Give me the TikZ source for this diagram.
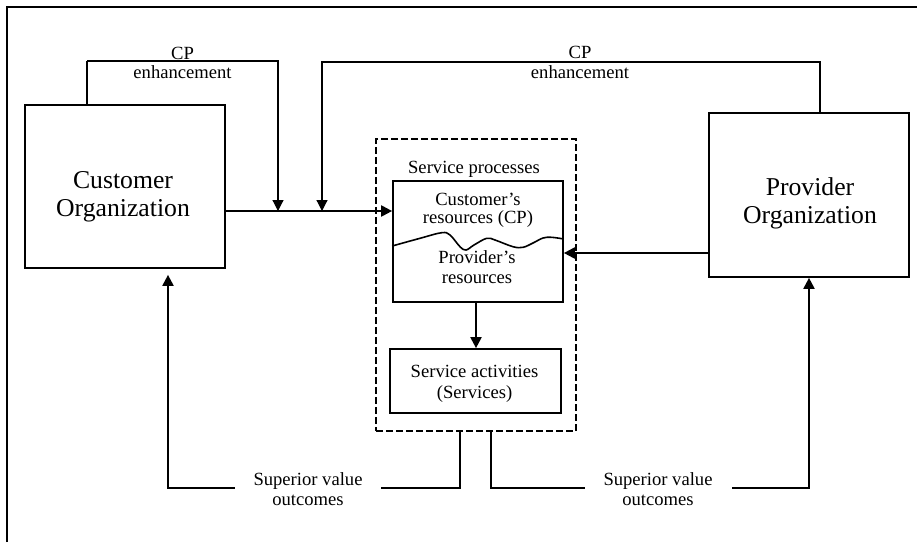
\documentclass[tikz,border=0pt]{standalone}
\usepackage{fontspec}
\setmainfont{Liberation Serif}
\usetikzlibrary{arrows.meta}
\begin{document}
\begin{tikzpicture}[x=1pt,y=-1pt,
  box/.style={draw,line width=1.7pt,inner sep=0pt},
  lbl/.style={inner sep=0pt,anchor=base,font=\fontsize{18.6}{20}\selectfont},
  big/.style={inner sep=0pt,anchor=base,font=\fontsize{25.7}{28}\selectfont},
  flow/.style={line width=2pt,-{Triangle[length=11pt,width=11pt]}},
  thinflow/.style={line width=1.2pt,-{Triangle[length=11pt,width=11pt]}},
  gapnode/.style={fill=white,inner xsep=19pt,inner ysep=2pt,align=center,
    font=\fontsize{18.6}{20}\selectfont}]
\useasboundingbox (0,0) rectangle (917,542);
% frame
\draw[line width=2pt] (7,542) -- (7,7) -- (917,7);

% organisations
\node[box,minimum width=200pt,minimum height=163pt] (cust) at (125,186.5) {};
\node[big] (custA) at (123,188) {Customer};
\node[big] (custB) at (123,216) {Organization};
\node[box,minimum width=200pt,minimum height=164pt] (prov) at (809,195) {};
\node[big] (provA) at (810,195) {Provider};
\node[big] (provB) at (810,223) {Organization};

% service processes
\node[draw,line width=1.6pt,dash pattern=on 7pt off 3pt,minimum width=200pt,minimum height=292pt] (proc) at (476,285) {};
\node[lbl] (procT) at (474,173) {Service processes};
\node[box,minimum width=170pt,minimum height=121pt] (res) at (478,241.5) {};
\node[lbl] (resA) at (478,205) {Customer’s};
\node[lbl] (resB) at (478,223) {resources (CP)};
\node[lbl] (resC) at (477,263) {Provider’s};
\node[lbl] (resD) at (477,283) {resources};
\draw[line width=1.6pt] plot[smooth,tension=0.6] coordinates {
  (res.west |- 0,246) (420,238.3) (441.7,232.7) (450,235) (460,246.7)
  (466,250) (474,245) (486.7,238.3) (495,240) (513,246.7) (523,247.3)
  (533,243) (543,238) (551.7,237.3) (res.east |- 0,239)};
\node[box,minimum width=171pt,minimum height=64pt] (act) at (475.5,381) {};
\node[lbl] (actA) at (474.5,377) {Service activities};
\node[lbl] (actB) at (474.5,398) {(Services)};

% main input flow and junctions
\coordinate (mainY) at (0,211);
\coordinate (j1) at (278,211);
\coordinate (j2) at (322,211);
\draw[flow] (cust.east |- mainY) -- (res.west |- mainY);

% customer CP enhancement loop
\coordinate (cpL) at (87,61);
\draw[line width=2pt] (cust.north -| cpL) -- (cpL);
\draw[thinflow] (cpL) -- (j1 |- cpL) -- (j1);
\node[lbl] (cpLa) at (182.5,59) {CP};
\node[lbl] (cpLb) at (182.5,78) {enhancement};

% provider CP enhancement loop
\coordinate (cpR) at (820,62);
\draw[thinflow] (prov.north -| cpR) -- (cpR) -- (j2 |- cpR) -- (j2);
\node[lbl] (cpRa) at (580,58) {CP};
\node[lbl] (cpRb) at (580,78) {enhancement};

% provider resources and internal flow
\draw[flow] (prov.west |- 0,253) -- (res.east |- 0,253);
\draw[flow] (res.south -| 476,0) -- (act.north -| 476,0);

% superior value outcomes
\draw[flow,shorten >=6pt] (proc.south -| 460,0) -- (460,488) -- (168,488) -- (cust.south -| 168,0);
\node[gapnode] (svL) at (308,489) {Superior value\\outcomes};
\draw[flow] (proc.south -| 491,0) -- (491,488) -- (809,488) -- (prov.south -| 809,0);
\node[gapnode] (svR) at (658,489) {Superior value\\outcomes};
\end{tikzpicture}
\end{document}
